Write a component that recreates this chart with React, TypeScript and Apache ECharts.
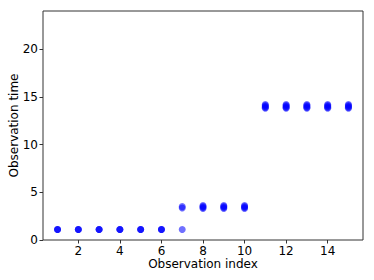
import React, { useEffect, useRef } from "react";
import * as echarts from "echarts";

const xTicks = [2, 4, 6, 8, 10, 12, 14];
const yTicks = [0, 5, 10, 15, 20];
const indices = [1, 2, 3, 4, 5, 6, 7, 8, 9, 10, 11, 12, 13, 14, 15];
// observation times per index (repeated observations overlap)
const times: number[][] = [
  [1.1, 1.1, 1.1],
  [1.1, 1.1, 1.1],
  [1.1, 1.1, 1.1],
  [1.1, 1.1, 1.1],
  [1.1, 1.1, 1.1],
  [1.1, 1.1, 1.1],
  [1.1, 3.35, 3.5],
  [3.3, 3.4, 3.5, 3.6],
  [3.3, 3.4, 3.5, 3.6],
  [3.3, 3.4, 3.5, 3.6],
  [13.8, 13.9, 14.0, 14.1, 14.2],
  [13.8, 13.9, 14.0, 14.1, 14.2],
  [13.8, 13.9, 14.0, 14.1, 14.2],
  [13.8, 13.9, 14.0, 14.1, 14.2],
  [13.8, 13.9, 14.0, 14.1, 14.2],
];

const FONT = "DejaVu Sans";

export default function App() {
  const ref = useRef<HTMLDivElement>(null);
  useEffect(() => {
    if (!ref.current) return;
    const chart = echarts.init(ref.current, null, { renderer: "svg" });
    const data: number[][] = [];
    indices.forEach((xi, i) => times[i].forEach((t) => data.push([xi, t])));
    chart.setOption({
      animation: false,
      grid: {
        left: 43,
        right: 11,
        top: 11,
        bottom: 40,
        containLabel: false,
        outerBoundsMode: "none",
        show: true,
        borderColor: "#333",
        borderWidth: 1,
        backgroundColor: "transparent",
      },
      xAxis: {
        type: "value",
        min: 0.3,
        max: 15.7,
        name: "Observation index",
        nameLocation: "middle",
        nameGap: 18,
        nameMoveOverlap: false,
        nameTextStyle: { fontFamily: FONT, fontSize: 12, color: "#000" },
        axisLine: { show: false },
        axisTick: {
          show: true,
          length: 3.5,
          customValues: xTicks,
          lineStyle: { color: "#333" },
        },
        axisLabel: {
          customValues: xTicks,
          margin: 5,
          fontFamily: FONT,
          fontSize: 12,
          color: "#000",
        },
        splitLine: { show: false },
      },
      yAxis: {
        type: "value",
        min: 0,
        max: 24,
        name: "Observation time",
        nameLocation: "middle",
        nameGap: 23,
        nameMoveOverlap: false,
        nameTextStyle: { fontFamily: FONT, fontSize: 12, color: "#000" },
        axisLine: { show: false },
        axisTick: {
          show: true,
          length: 3.5,
          customValues: yTicks,
          lineStyle: { color: "#333" },
        },
        axisLabel: {
          customValues: yTicks,
          margin: 5,
          fontFamily: FONT,
          fontSize: 12,
          color: "#000",
        },
        splitLine: { show: false },
      },
      series: [
        {
          type: "scatter",
          data,
          symbolSize: 7,
          itemStyle: { color: "rgba(0,0,255,0.7)" },
        },
      ],
    });
    return () => chart.dispose();
  }, []);
  return <div ref={ref} style={{ width: 374, height: 280, position: "absolute", left: 0, top: 0 }} />;
}
